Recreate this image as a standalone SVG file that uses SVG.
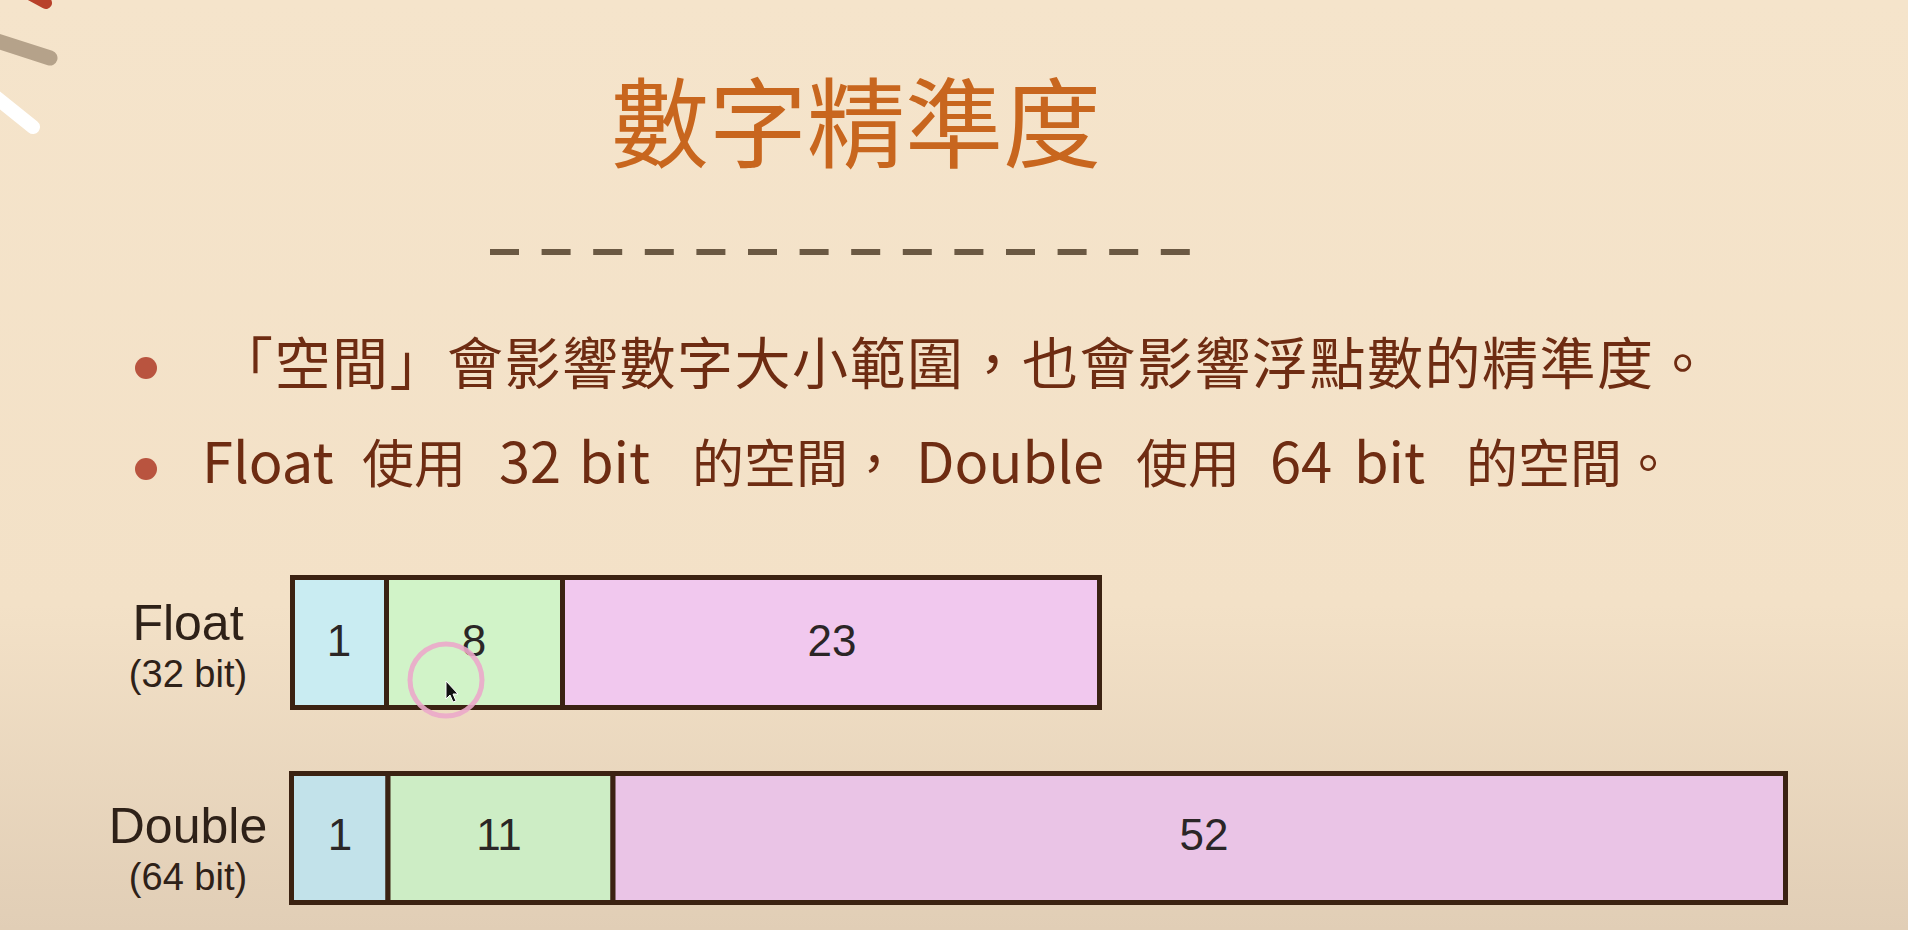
<svg xmlns="http://www.w3.org/2000/svg" width="1908" height="930" viewBox="0 0 1908 930">
  <defs>
    <linearGradient id="bg" x1="0" y1="0" x2="0" y2="1">
      <stop offset="0" stop-color="#F5E4CB"/>
      <stop offset="0.65" stop-color="#F3E1C7"/>
      <stop offset="1" stop-color="#E1CEB6"/>
    </linearGradient>
    <style>
      .cjk { font-family: "Noto Sans CJK TC", "Noto Sans", sans-serif; }
      .body { font-size: 56px; fill: #6E2C12; }
      .han { font-size: 52px; }
      .lbl { font-family: "Liberation Sans", Arial, sans-serif; fill: #2E2118; text-anchor: middle; }
      .num { font-family: "Liberation Sans", Arial, sans-serif; font-size: 44px; fill: #2B2626; text-anchor: middle; }
      .cell { stroke: #3B2212; stroke-width: 5; }
      .bullet { fill: #B9543F; }
    </style>
  </defs>

  <rect x="0" y="0" width="1908" height="930" fill="url(#bg)"/>

  <g id="decoration" stroke-linecap="round">
    <line x1="22" y1="-10" x2="46" y2="3" stroke="#B8412A" stroke-width="12"/>
    <line x1="-6" y1="40" x2="50" y2="58" stroke="#B5A28A" stroke-width="15"/>
    <line x1="-8" y1="94" x2="33" y2="127" stroke="#FFFFFF" stroke-width="14"/>
  </g>

  <g id="title">
    <text class="cjk" x="856" y="160" font-size="98" fill="#C8661E" text-anchor="middle">數字精準度</text>
  </g>

  <g id="divider">
    <line x1="490" y1="252" x2="1190" y2="252" stroke="#6B5943" stroke-width="6" stroke-dasharray="29 22.6"/>
  </g>

  <g id="bullet-1">
    <circle class="bullet" cx="146" cy="368" r="11"/>
    <text class="cjk body" x="217" y="384" letter-spacing="1.5">「空間」會影響數字大小範圍，也會影響浮點數的精準度。</text>
  </g>

  <g id="bullet-2">
    <circle class="bullet" cx="146" cy="469" r="11"/>
    <text class="cjk body" y="483"><tspan x="202">Float</tspan><tspan class="han" x="362">使用</tspan><tspan x="499">32</tspan><tspan x="579">bit</tspan><tspan class="han" x="692">的空間，</tspan><tspan x="916">Double</tspan><tspan class="han" x="1136">使用</tspan><tspan x="1270">64</tspan><tspan x="1354">bit</tspan><tspan class="han" x="1466">的空間。</tspan></text>
  </g>

  <g id="connectors"/>

  <g id="float-row">
    <text class="lbl" x="188" y="640" font-size="50">Float</text>
    <text class="lbl" x="188" y="687" font-size="38">(32 bit)</text>
    <rect id="float-sign" class="cell" x="292.5" y="577.5" width="94" height="130" fill="#C9ECF2"/>
    <rect id="float-exp" class="cell" x="386.5" y="577.5" width="176" height="130" fill="#D1F3C8"/>
    <rect id="float-man" class="cell" x="562.5" y="577.5" width="537" height="130" fill="#F1C8EE"/>
    <text class="num" x="339" y="656">1</text>
    <text class="num" x="474" y="656">8</text>
    <text class="num" x="832" y="656">23</text>
  </g>

  <g id="double-row">
    <text class="lbl" x="188" y="843" font-size="50">Double</text>
    <text class="lbl" x="188" y="890" font-size="38">(64 bit)</text>
    <rect id="double-sign" class="cell" x="291.5" y="773.5" width="96.5" height="129" fill="#C2E2EA"/>
    <rect id="double-exp" class="cell" x="388" y="773.5" width="225" height="129" fill="#CDEDC5"/>
    <rect id="double-man" class="cell" x="613" y="773.5" width="1172.5" height="129" fill="#EAC4E6"/>
    <text class="num" x="340" y="850">1</text>
    <text class="num" x="499" y="850">11</text>
    <text class="num" x="1204" y="850">52</text>
  </g>

  <g id="cursor">
    <ellipse cx="446" cy="680" rx="36" ry="36" fill="none" stroke="#EBA8CA" stroke-width="5" opacity="0.9"/>
    <polygon points="446,681 446,699 450,695 453,702 456,701 453,694 458,694" fill="#111111" stroke="#FFFFFF" stroke-width="1"/>
  </g>
</svg>
